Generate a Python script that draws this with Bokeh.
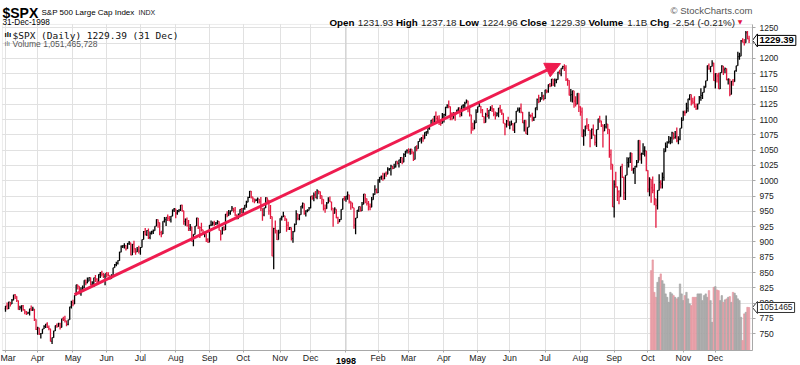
from bokeh.plotting import figure
from bokeh.models import Range1d, FixedTicker, Label, Arrow, NormalHead, ColumnDataSource, BoxAnnotation, Grid
from bokeh.embed import file_html
from bokeh.resources import INLINE

# ---------------- data ----------------
month_labels = ["Mar", "Apr", "May", "Jun", "Jul", "Aug", "Sep", "Oct", "Nov", "Dec",
                "1998", "Feb", "Mar", "Apr", "May", "Jun", "Jul", "Aug", "Sep", "Oct", "Nov", "Dec"]
month_trading_days = [20, 22, 21, 21, 22, 21, 21, 23, 19, 22,
                      20, 19, 22, 21, 20, 22, 22, 21, 21, 22, 20, 22]
price_ticks = [750, 775, 800, 825, 850, 875, 900, 925, 950, 975, 1000, 1025, 1050,
               1075, 1100, 1125, 1150, 1175, 1200, 1225, 1250]

prev_close = 790.82  # close of 28-Feb-1997

closes = [
    # Mar 1997
    795.31, 790.95, 801.99, 798.56, 804.97, 813.65, 811.34, 804.26, 789.56, 793.17,
    795.71, 789.66, 785.77, 782.65, 784.10, 790.89, 789.07, 790.50, 773.88, 757.12,
    # Apr
    759.64, 750.11, 750.32, 757.90, 762.13, 766.12, 760.60, 758.34, 737.65, 743.73, 754.72,
    763.53, 761.77, 766.34, 760.37, 774.61, 773.64, 771.18, 765.37, 772.96, 794.05, 801.34,
    # May
    798.53, 812.97, 830.24, 827.76, 815.62, 820.26, 824.78, 837.66, 833.13, 836.04, 841.88,
    829.75, 833.27, 841.66, 839.35, 835.66, 847.03, 849.71, 847.21, 844.08, 848.28,
    # Jun
    846.36, 845.48, 840.11, 843.43, 858.01, 862.91, 865.27, 869.57, 883.46, 893.27, 893.90,
    894.42, 889.06, 897.99, 898.70, 878.62, 896.34, 888.99, 883.68, 887.30, 885.14,
    # Jul
    891.03, 904.03, 916.92, 912.20, 918.75, 907.54, 913.78, 916.68, 918.38, 925.76, 936.59,
    931.61, 915.30, 912.94, 933.98, 936.56, 940.30, 938.79, 936.45, 942.29, 952.29, 954.29,
    # Aug
    947.14, 950.30, 952.37, 960.32, 951.19, 933.54, 937.00, 926.53, 922.02, 924.77, 900.81,
    912.49, 926.01, 939.35, 925.05, 923.54, 920.16, 913.02, 913.70, 903.67, 899.47,
    # Sep
    927.58, 927.86, 930.87, 929.05, 931.20, 933.62, 919.03, 912.59, 923.91, 919.77, 945.64,
    943.00, 947.29, 950.51, 955.43, 951.93, 944.48, 937.91, 945.22, 953.34, 947.28,
    # Oct
    955.41, 960.46, 965.03, 972.69, 983.12, 973.84, 970.62, 966.98, 968.10, 970.28, 965.72,
    955.25, 944.16, 955.61, 972.28, 968.49, 950.69, 941.64, 876.99, 921.85, 919.16, 903.68, 914.62,
    # Nov
    938.99, 940.76, 942.76, 938.03, 927.51, 921.13, 923.78, 905.96, 916.66, 928.35,
    946.20, 938.23, 944.59, 958.98, 963.09, 946.67, 950.82, 951.64, 955.40,
    # Dec
    974.77, 971.68, 976.77, 973.10, 983.79, 982.37, 975.78, 969.79, 954.94, 954.39, 963.39,
    968.04, 965.54, 955.30, 946.78, 953.70, 939.55, 932.70, 936.46, 953.35, 970.84, 970.43,
    # Jan 1998
    975.04, 977.07, 966.58, 964.00, 956.05, 927.69, 939.21, 952.12, 957.94, 950.73,
    961.51, 978.60, 970.81, 963.04, 957.59, 956.95, 969.02, 977.46, 985.49, 980.28,
    # Feb
    1001.27, 1006.00, 1006.90, 1003.54, 1012.46, 1010.74, 1019.01, 1020.01, 1024.14, 1020.09,
    1022.76, 1032.08, 1028.28, 1034.21, 1038.14, 1030.56, 1042.90, 1048.67, 1049.34,
    # Mar
    1047.70, 1052.02, 1047.33, 1035.05, 1055.69, 1052.31, 1064.25, 1068.47, 1069.92, 1068.61, 1079.27,
    1080.45, 1085.52, 1089.74, 1099.16, 1095.55, 1105.65, 1101.93, 1100.80, 1095.44, 1093.60, 1101.75,
    # Apr
    1108.15, 1120.01, 1122.70, 1121.38, 1109.55, 1101.65, 1110.67, 1109.69, 1115.75, 1119.32, 1108.17,
    1122.72, 1123.65, 1126.67, 1130.54, 1119.58, 1107.90, 1086.54, 1085.11, 1094.63, 1111.75,
    # May
    1121.00, 1122.07, 1115.50, 1104.92, 1095.14, 1108.14, 1106.64, 1115.79, 1118.86, 1117.37,
    1108.73, 1105.82, 1109.52, 1119.06, 1114.64, 1110.47, 1094.02, 1092.23, 1097.60, 1090.82,
    # Jun
    1090.98, 1093.22, 1082.73, 1094.83, 1113.86, 1115.72, 1118.41, 1112.28, 1094.58, 1098.84, 1077.01,
    1087.59, 1107.11, 1106.37, 1100.65, 1103.21, 1119.49, 1132.88, 1129.13, 1133.20, 1138.49, 1133.84,
    # Jul
    1148.56, 1146.42, 1157.33, 1154.66, 1166.38, 1158.56, 1164.33, 1165.19, 1177.58, 1174.81, 1183.99,
    1186.75, 1184.10, 1165.07, 1164.08, 1139.75, 1140.80, 1147.27, 1130.24, 1125.21, 1142.95, 1120.67,
    # Aug
    1112.44, 1072.12, 1081.43, 1089.63, 1089.45, 1083.14, 1068.98, 1084.22, 1074.91, 1062.75, 1083.67,
    1101.20, 1098.06, 1091.60, 1081.24, 1088.14, 1092.85, 1084.19, 1042.59, 1027.14, 957.28,
    # Sep
    994.26, 990.47, 982.26, 973.89, 1023.46, 1006.20, 980.19, 1009.06, 1029.72, 1037.68, 1045.48,
    1018.87, 1020.09, 1023.89, 1029.63, 1066.09, 1042.72, 1044.75, 1048.69, 1049.02, 1017.01,
    # Oct
    986.39, 1002.60, 988.56, 984.59, 970.68, 959.44, 984.39, 997.71, 994.80, 1005.53, 1047.49,
    1056.42, 1062.39, 1063.93, 1069.92, 1078.48, 1070.67, 1072.32, 1065.34, 1068.09, 1085.93, 1098.67,
    # Nov
    1111.60, 1110.84, 1118.67, 1133.85, 1141.01, 1130.20, 1128.26, 1120.97, 1117.69, 1125.72,
    1135.87, 1139.32, 1144.48, 1152.61, 1163.55, 1188.21, 1182.99, 1186.87, 1192.33, 1163.63,
    # Dec
    1175.28, 1171.25, 1150.14, 1176.74, 1187.70, 1181.38, 1183.49, 1165.02, 1166.46, 1141.20, 1162.83,
    1161.94, 1179.98, 1188.03, 1202.84, 1203.57, 1228.54, 1226.27, 1225.49, 1241.81, 1231.93, 1229.39,
]

highs = [
    795.5, 801.0, 802.3, 802.0, 807.0, 813.8, 814.9, 811.4, 804.3, 796.0,
    796.5, 796.9, 789.8, 787.2, 786.0, 790.9, 796.4, 794.2, 790.5, 773.9,
    761.4, 759.7, 750.7, 757.9, 764.0, 766.2, 768.8, 763.5, 758.4, 744.1, 754.8,
    763.7, 767.0, 767.9, 768.0, 774.7, 777.9, 779.5, 771.2, 773.0, 794.1, 804.1,
    805.6, 813.0, 830.3, 830.3, 827.8, 825.9, 829.1, 837.7, 838.3, 841.8, 842.3,
    841.9, 835.9, 841.7, 846.0, 840.7, 847.1, 850.8, 853.0, 849.5, 848.3,
    851.0, 850.6, 845.5, 847.5, 858.1, 864.1, 867.8, 870.3, 884.2, 894.1, 894.6,
    897.9, 894.5, 898.4, 901.8, 898.7, 896.6, 902.1, 889.9, 892.0, 893.9,
    891.7, 904.1, 917.9, 923.0, 919.2, 922.1, 917.3, 918.5, 920.3, 925.8, 937.0,
    936.6, 931.7, 918.4, 934.0, 941.0, 940.6, 945.1, 942.5, 942.3, 953.0, 955.4,
    954.3, 952.2, 953.4, 960.4, 961.0, 951.2, 938.3, 939.9, 935.9, 929.6, 924.8,
    912.5, 926.1, 939.6, 939.4, 925.1, 931.3, 920.2, 916.6, 913.7, 906.0,
    927.6, 935.1, 933.5, 934.6, 932.6, 935.4, 933.7, 919.1, 924.0, 925.8, 945.7,
    950.3, 952.4, 951.4, 958.7, 955.5, 957.3, 944.5, 946.5, 953.4, 955.7,
    955.5, 960.5, 967.6, 974.1, 983.2, 983.2, 973.9, 970.7, 970.8, 972.6, 970.3,
    973.4, 955.3, 956.0, 973.3, 972.6, 968.5, 960.4, 941.7, 923.1, 935.2, 919.2, 919.9,
    939.0, 942.7, 949.6, 942.9, 938.1, 933.0, 924.4, 923.8, 917.8, 930.4,
    951.7, 946.3, 945.4, 959.0, 964.6, 963.1, 952.0, 953.4, 957.1,
    974.8, 976.2, 980.8, 983.4, 986.3, 983.8, 982.4, 975.8, 969.8, 961.3, 965.5,
    973.0, 974.4, 965.6, 955.3, 956.7, 953.7, 941.2, 937.5, 953.4, 970.9, 975.0,
    975.1, 982.6, 977.1, 966.6, 964.0, 956.1, 939.3, 952.2, 958.0, 958.0,
    965.5, 978.6, 978.6, 970.9, 966.9, 962.7, 973.6, 979.6, 992.7, 987.4,
    1002.5, 1006.1, 1008.8, 1013.1, 1012.5, 1015.0, 1022.0, 1020.6, 1026.3, 1024.2,
    1028.0, 1032.1, 1032.1, 1034.3, 1038.7, 1038.2, 1045.1, 1048.7, 1051.7,
    1053.0, 1052.1, 1052.1, 1047.4, 1055.7, 1058.0, 1064.6, 1069.1, 1071.7, 1075.3, 1079.3,
    1080.5, 1085.6, 1089.8, 1099.2, 1101.9, 1106.0, 1113.1, 1106.2, 1107.1, 1099.1, 1110.9,
    1109.5, 1121.0, 1124.9, 1131.0, 1121.4, 1112.1, 1111.9, 1110.7, 1115.9, 1119.9, 1119.4,
    1122.8, 1124.9, 1129.1, 1132.9, 1130.6, 1122.6, 1107.9, 1095.0, 1098.9, 1116.9,
    1121.1, 1130.5, 1122.1, 1117.4, 1105.2, 1111.0, 1119.1, 1115.8, 1122.0, 1124.0,
    1118.5, 1113.2, 1111.8, 1119.1, 1124.0, 1116.9, 1110.5, 1094.1, 1099.5, 1104.6,
    1097.4, 1098.7, 1094.1, 1094.9, 1113.9, 1119.9, 1119.6, 1126.3, 1112.3, 1098.9, 1098.9,
    1087.6, 1112.9, 1108.3, 1111.2, 1104.8, 1119.5, 1134.4, 1140.8, 1136.8, 1145.1, 1140.8,
    1148.6, 1148.6, 1157.4, 1159.8, 1166.4, 1166.4, 1167.3, 1166.9, 1178.1, 1181.3, 1184.0,
    1188.1, 1190.6, 1188.7, 1167.7, 1164.1, 1150.1, 1147.3, 1147.3, 1138.3, 1143.0, 1143.1,
    1121.9, 1119.7, 1084.3, 1090.1, 1102.0, 1092.8, 1083.2, 1085.5, 1092.1, 1075.0, 1083.7,
    1101.3, 1106.2, 1098.1, 1091.7, 1092.9, 1106.6, 1092.9, 1084.2, 1051.0, 1027.2,
    1000.7, 1014.9, 990.5, 984.7, 1023.5, 1027.7, 1006.3, 1009.1, 1038.4, 1037.7, 1046.1,
    1045.5, 1021.3, 1024.2, 1033.9, 1066.1, 1066.1, 1046.0, 1061.5, 1056.3, 1049.1,
    1017.1, 1005.7, 1002.7, 1007.0, 995.0, 970.7, 984.4, 1010.7, 1000.8, 1013.4, 1053.1,
    1062.7, 1064.8, 1073.4, 1071.9, 1080.0, 1078.5, 1081.2, 1087.1, 1072.8, 1086.0, 1103.8,
    1114.4, 1114.7, 1127.7, 1133.9, 1141.1, 1141.1, 1135.7, 1138.1, 1126.4, 1125.8,
    1138.7, 1151.2, 1144.5, 1155.1, 1163.6, 1188.3, 1191.8, 1187.2, 1197.0, 1192.7,
    1175.9, 1175.3, 1176.7, 1176.8, 1188.9, 1187.7, 1185.2, 1183.5, 1167.1, 1166.5, 1162.9,
    1166.4, 1180.0, 1188.1, 1210.9, 1209.1, 1229.9, 1233.0, 1231.5, 1244.9, 1244.9, 1237.18,
]

lows = [
    786.0, 789.6, 790.5, 794.5, 798.5, 804.9, 807.0, 801.9, 789.4, 789.5,
    785.9, 787.6, 781.8, 780.6, 782.6, 780.0, 787.2, 787.1, 770.9, 756.1,
    748.3, 748.2, 742.5, 750.2, 757.9, 759.6, 759.4, 756.0, 737.6, 733.5, 743.7,
    754.7, 759.9, 761.7, 757.1, 760.3, 771.0, 768.6, 762.3, 764.0, 772.9, 791.2,
    795.0, 798.5, 812.9, 822.4, 814.7, 812.0, 818.8, 824.7, 829.4, 832.6, 836.0,
    829.5, 829.7, 826.4, 834.6, 833.4, 835.6, 841.0, 843.6, 841.1, 829.4,
    842.4, 843.8, 838.3, 840.1, 843.4, 858.0, 860.2, 863.4, 869.5, 883.4, 890.1,
    889.4, 886.2, 889.0, 895.0, 878.4, 878.6, 882.5, 879.2, 883.6, 881.4,
    879.3, 891.0, 904.0, 910.5, 909.6, 905.0, 904.5, 912.2, 913.0, 918.3, 925.7,
    923.3, 910.9, 907.7, 912.9, 932.0, 926.0, 934.5, 934.0, 931.9, 942.2, 948.9,
    939.0, 944.7, 948.6, 950.5, 949.5, 928.0, 926.4, 925.3, 918.1, 918.1, 900.8,
    893.0, 912.4, 926.0, 921.1, 906.4, 917.1, 912.3, 907.9, 899.9, 898.6,
    899.4, 926.0, 926.8, 926.0, 927.7, 928.5, 918.8, 902.6, 912.5, 918.4, 919.7,
    940.6, 943.0, 944.6, 950.5, 948.3, 942.2, 937.3, 937.9, 945.2, 947.0,
    947.2, 952.7, 955.9, 965.0, 971.7, 971.2, 964.8, 963.4, 966.9, 963.4, 963.0,
    950.7, 934.7, 942.0, 955.6, 963.6, 944.6, 937.6, 876.7, 855.3, 913.9, 903.2, 903.6,
    914.6, 935.0, 940.7, 934.2, 916.8, 919.8, 919.4, 902.6, 898.9, 916.6,
    928.3, 935.6, 935.6, 944.5, 954.8, 944.4, 941.7, 948.6, 951.6,
    955.3, 969.2, 966.7, 971.4, 969.8, 977.9, 970.3, 961.7, 951.6, 947.9, 954.3,
    963.3, 965.2, 951.6, 924.9, 946.7, 938.9, 929.4, 932.6, 936.4, 953.3, 967.4,
    965.7, 969.0, 962.7, 952.7, 955.0, 921.7, 912.8, 939.2, 948.9, 950.0,
    950.7, 961.5, 963.3, 959.5, 951.3, 951.7, 956.9, 969.0, 977.4, 979.6,
    980.2, 996.7, 1001.6, 1000.1, 1002.4, 1006.5, 1010.7, 1016.4, 1008.6, 1018.7,
    1020.0, 1021.7, 1026.7, 1021.9, 1029.0, 1027.0, 1030.5, 1038.7, 1044.4,
    1044.7, 1042.7, 1043.4, 1032.2, 1035.0, 1048.1, 1052.3, 1064.2, 1061.0, 1063.9, 1068.6,
    1073.3, 1076.9, 1083.3, 1089.7, 1091.0, 1095.5, 1093.3, 1096.6, 1091.3, 1090.0, 1093.5,
    1095.3, 1105.3, 1118.4, 1118.7, 1098.8, 1098.9, 1101.6, 1098.3, 1109.6, 1112.2, 1103.8,
    1105.4, 1118.0, 1118.1, 1126.6, 1111.9, 1104.9, 1076.7, 1081.6, 1084.2, 1094.6,
    1111.7, 1121.0, 1110.2, 1104.2, 1094.0, 1095.1, 1103.8, 1101.5, 1114.0, 1112.4,
    1105.3, 1100.3, 1105.8, 1103.7, 1111.2, 1107.6, 1094.0, 1074.4, 1087.2, 1090.4,
    1084.2, 1090.9, 1081.6, 1078.1, 1094.8, 1113.8, 1111.3, 1110.3, 1094.3, 1080.4, 1077.0,
    1074.7, 1087.5, 1103.6, 1097.0, 1097.8, 1103.2, 1115.1, 1126.9, 1129.1, 1133.2, 1131.0,
    1133.8, 1142.9, 1143.9, 1152.9, 1154.6, 1155.0, 1153.8, 1159.2, 1165.1, 1174.2, 1171.0,
    1182.4, 1179.3, 1163.2, 1155.2, 1139.3, 1129.1, 1128.0, 1119.4, 1121.3, 1125.2, 1112.3,
    1106.4, 1071.8, 1057.2, 1072.8, 1084.3, 1081.2, 1055.0, 1068.9, 1074.2, 1057.5, 1055.1,
    1083.6, 1094.9, 1087.7, 1054.6, 1081.2, 1085.5, 1076.3, 1037.6, 1017.9, 957.0,
    939.98, 988.5, 967.1, 961.7, 973.8, 1004.6, 968.6, 968.6, 1009.0, 1021.7, 1028.9,
    1016.1, 1011.7, 994.6, 1021.8, 1029.6, 1033.0, 1027.7, 1042.2, 1039.7, 1015.7,
    981.3, 974.8, 964.1, 979.7, 960.0, 923.3, 953.0, 984.3, 987.6, 987.4, 1000.1,
    1047.4, 1053.7, 1060.9, 1059.6, 1061.5, 1067.4, 1068.6, 1063.1, 1059.7, 1066.4, 1085.9,
    1098.6, 1106.4, 1110.8, 1112.7, 1131.6, 1122.9, 1125.1, 1119.2, 1115.5, 1116.7,
    1125.7, 1130.6, 1133.8, 1144.4, 1152.6, 1163.5, 1181.6, 1177.4, 1186.8, 1163.6,
    1150.8, 1160.7, 1149.9, 1150.1, 1176.7, 1172.7, 1175.9, 1164.2, 1157.4, 1138.0, 1141.2,
    1155.4, 1161.9, 1178.3, 1188.0, 1197.6, 1203.5, 1226.0, 1221.2, 1225.4, 1231.2, 1224.96,
]

# volume, thousands of shares, 5-Oct-1998 .. 31-Dec-1998
volumes = [
    1310000, 1385000, 1158000, 1123000, 1228000, 1263000, 1287000, 1240000, 1217000, 1147000,
    1123000, 1088000, 1158000, 1147000, 1135000, 1123000, 1112000, 1123000, 1217000, 1147000,
    1100000, 1135000, 1158000, 1112000, 1077000, 1065000, 1123000, 1123000, 1123000, 1147000,
    1147000, 1147000, 1100000, 1135000, 1147000, 1123000, 1170000, 1100000, 948000, 1193000,
    1198000, 1175000, 1170000, 1100000, 1135000, 1088000, 1105000, 1112000, 1123000, 1128000,
    1088000, 1158000, 1152000, 1135000, 1112000, 1100000, 983000, 820000, 1007000, 1018000,
    1053000, 1051465.728,
]

# annotation arrow (trading-day index, price)
arrow_from = (43, 814.0)
arrow_to = (345.6, 1191.5)

# ---------------- layout (the frame covers the whole canvas) ----------------
W, H = 800, 365
X_RANGE = (-3.113, 495.02)
Y_RANGE = (698.2, 1294.6)
CHART_X = (-1.87, 465.1)      # plot-area edges in data units
CHART_Y = (722.7, 1255.4)
VOL_RANGE = (644838, 3203780)
VOL_BASE = 750000
RED = "#e3173e"
ARROW_RED = "#ee1c4f"
FONT = "Liberation Sans"


def px_to_x(px):
    return X_RANGE[0] + px * (X_RANGE[1] - X_RANGE[0]) / W


def py_span(py):
    return py * (Y_RANGE[1] - Y_RANGE[0]) / H


n = len(closes)
xs = list(range(n))
opens = [prev_close] + closes[:-1]  # the index opened at the prior close in this era
down = [c < o for o, c in zip(opens, closes)]
colors = [RED if d else "#000000" for d in down]

src = ColumnDataSource(dict(x=xs, o=opens, h=highs, l=lows, c=closes, col=colors,
                            xl=[i - 0.45 for i in xs], xr=[i + 0.45 for i in xs]))

month_starts = []
acc = 0
for d in month_trading_days:
    month_starts.append(acc)
    acc += d
year_idx = month_starts[month_labels.index("1998")]

p = figure(width=W, height=H, x_range=Range1d(*X_RANGE), y_range=Range1d(*Y_RANGE),
           output_backend="svg", toolbar_location=None, y_axis_location="right",
           min_border=0, background_fill_color="white", border_fill_color="white")
p.outline_line_color = None
p.extra_y_ranges = {"vol": Range1d(*VOL_RANGE)}

# axes placed on the plot-area edges
xa = p.xaxis[0]
ya = p.yaxis[0]
xa.fixed_location = CHART_Y[0]
ya.fixed_location = CHART_X[1]
xa.bounds = CHART_X
ya.bounds = CHART_Y
xa.ticker = FixedTicker(ticks=month_starts)
xa.major_label_overrides = {s: (lab if lab != "1998" else " ") for s, lab in zip(month_starts, month_labels)}
ya.ticker = FixedTicker(ticks=price_ticks)
for ax in (xa, ya):
    ax.axis_line_color = "#a8a8a8"
    ax.major_tick_line_color = "#a8a8a8"
    ax.major_tick_in = 0
    ax.minor_tick_line_color = None
    ax.major_label_text_font = FONT
    ax.major_label_text_color = "#222222"
xa.major_tick_out = 2
xa.major_label_standoff = 0
xa.major_label_text_font_size = "8.8px"
ya.major_tick_out = 3
ya.major_label_standoff = 4
ya.major_label_text_font_size = "8.5px"

# grids limited to the plot area
has_cross = "cross_bounds" in Grid.properties()
if has_cross:
    p.xgrid.bounds = CHART_X
    p.xgrid.cross_bounds = CHART_Y
    p.ygrid.ticker = FixedTicker(ticks=price_ticks)
    p.ygrid.bounds = CHART_Y
    p.ygrid.cross_bounds = CHART_X
    p.xgrid.grid_line_color = "#e1e1e1"
    p.ygrid.grid_line_color = "#e1e1e1"
else:
    p.xgrid.visible = False
    p.ygrid.visible = False
    p.segment(x0=month_starts, y0=CHART_Y[0], x1=month_starts, y1=CHART_Y[1], line_color="#e1e1e1")
    p.segment(x0=CHART_X[0], y0=price_ticks, x1=CHART_X[1], y1=price_ticks, line_color="#e1e1e1")
p.segment(x0=[year_idx], y0=[CHART_Y[0]], x1=[year_idx], y1=[CHART_Y[1]], line_color="#cacaca")

# plot-area border
p.add_layout(BoxAnnotation(left=CHART_X[0], right=CHART_X[1], bottom=CHART_Y[0], top=CHART_Y[1],
                           fill_alpha=0, line_color="#c4c4c4", line_width=1, level="underlay"))

# volume overlay
vstart = n - len(volumes)
vx = xs[vstart:]
vfill = ["#eea6ae" if d else "#b2b2b2" for d in down[vstart:]]
vline = ["#de8e98" if d else "#9a9a9a" for d in down[vstart:]]
p.vbar(x=vx, width=0.95, bottom=VOL_BASE, top=volumes, y_range_name="vol",
       fill_color=vfill, line_color=vline, line_width=0.5)

# OHLC bars
p.segment(x0="x", y0="l", x1="x", y1="h", line_color="col", line_width=1.3, source=src)
p.segment(x0="xl", y0="o", x1="x", y1="o", line_color="col", line_width=1.0, source=src)
p.segment(x0="x", y0="c", x1="xr", y1="c", line_color="col", line_width=1.0, source=src)

# trend arrow
p.add_layout(Arrow(end=NormalHead(size=15, fill_color=ARROW_RED, line_color=ARROW_RED),
                   x_start=arrow_from[0], y_start=arrow_from[1],
                   x_end=arrow_to[0], y_end=arrow_to[1],
                   line_color=ARROW_RED, line_width=3))


def lab(text, x, y, size, color="#000000", bold=False, font=FONT, align="left",
        baseline="alphabetic", xu="canvas", yu="canvas", **kw):
    p.add_layout(Label(x=x, y=y, x_units=xu, y_units=yu, text=text, text_font=font,
                       text_font_size=size, text_color=color,
                       text_font_style="bold" if bold else "normal",
                       text_align=align, text_baseline=baseline, **kw))


# header
lab("$SPX", 2, 12.5, "14px", bold=True)
lab("S&P 500 Large Cap Index", 41, 12, "8px")
lab("INDX", 138, 12, "7px", color="#222222")
lab("31-Dec-1998", 2, 22, "8.2px")
lab("\u00a9 StockCharts.com", 752, 10, "9.5px", color="#555555", align="right")

REG = {".": 278, ",": 278, " ": 278, "-": 333, "(": 333, ")": 333, "%": 889, "B": 667}
BOLD = {"O": 778, "p": 611, "e": 556, "n": 611, "H": 722, "i": 278, "g": 611, "h": 611,
        "L": 611, "o": 611, "w": 778, "C": 722, "l": 278, "s": 556, "V": 667, "u": 611,
        "m": 889, " ": 278}


def tw(s, size, bold):
    t = BOLD if bold else REG
    return sum(t.get(ch, 556) for ch in s) * size / 1000.0


chg = closes[-1] - closes[-2]
pct = chg / closes[-2] * 100
pieces = [("Open", True), (f"{opens[-1]:.2f}", False), ("High", True), (f"{highs[-1]:.2f}", False),
          ("Low", True), (f"{lows[-1]:.2f}", False), ("Close", True), (f"{closes[-1]:.2f}", False),
          ("Volume", True), (f"{volumes[-1] / 1e6:.1f}B", False), ("Chg", True),
          (f"{chg:.2f} ({pct:.2f}%)", False)]
HS = 9.8
xpos = 329.0
for txt, b in pieces:
    lab(txt, xpos, 22, f"{HS}px", bold=b, color="#000000" if b else "#222222")
    xpos += tw(txt, HS, b) + tw(" ", HS, False) + (0.6 if b else 0)
lab("\u25bc", xpos, 21, "6px", color=RED, font="DejaVu Sans")

# in-chart legend
lab("\u0131l\u0131", 4, 34, "8px", bold=True)
lab(f"$SPX (Daily) {closes[-1]:.2f} (31 Dec)", 12, 34.5, "9.5px", font="DejaVu Sans Mono",
    color="#111111")
lab("\u0131l\u0131", 4, 43, "7px", color="#666666")
lab(f"Volume {volumes[-1] * 1000:,.0f}", 12, 43, "8.5px", color="#555555")

# "1998" bold tick label
lab("1998", year_idx, 360.5, "9px", bold=True, align="center", xu="data")

# right-hand value tags (notch + boxed text)
tag_dx = px_to_x(757) - px_to_x(752)
tag_dy = py_span(6.5)
p.patch(x=[CHART_X[1], CHART_X[1] + tag_dx, CHART_X[1] + tag_dx],
        y=[closes[-1], closes[-1] + tag_dy, closes[-1] - tag_dy],
        fill_color="white", line_color="#000000", line_width=1)
p.add_layout(Label(x=757, y=closes[-1], x_units="canvas", y_units="data",
                   text=f"{closes[-1]:.2f}", text_font=FONT, text_font_size="9.5px",
                   text_font_style="bold", text_baseline="middle", text_color="#000000",
                   background_fill_color="white", border_line_color="#000000",
                   border_line_width=1, padding=2))
vol_dy = py_span(6) * (VOL_RANGE[1] - VOL_RANGE[0]) / (Y_RANGE[1] - Y_RANGE[0])
p.patch(x=[CHART_X[1], CHART_X[1] + tag_dx, CHART_X[1] + tag_dx],
        y=[volumes[-1], volumes[-1] + vol_dy, volumes[-1] - vol_dy], y_range_name="vol",
        fill_color="white", line_color="#333333", line_width=1)
p.add_layout(Label(x=757, y=volumes[-1], x_units="canvas", y_units="data", y_range_name="vol",
                   text=f"{int(volumes[-1])}", text_font=FONT, text_font_size="8.5px",
                   text_baseline="middle", text_color="#222222",
                   background_fill_color="white", border_line_color="#333333",
                   border_line_width=1, padding=2))

open("out.html", "w").write(file_html(p, INLINE))
